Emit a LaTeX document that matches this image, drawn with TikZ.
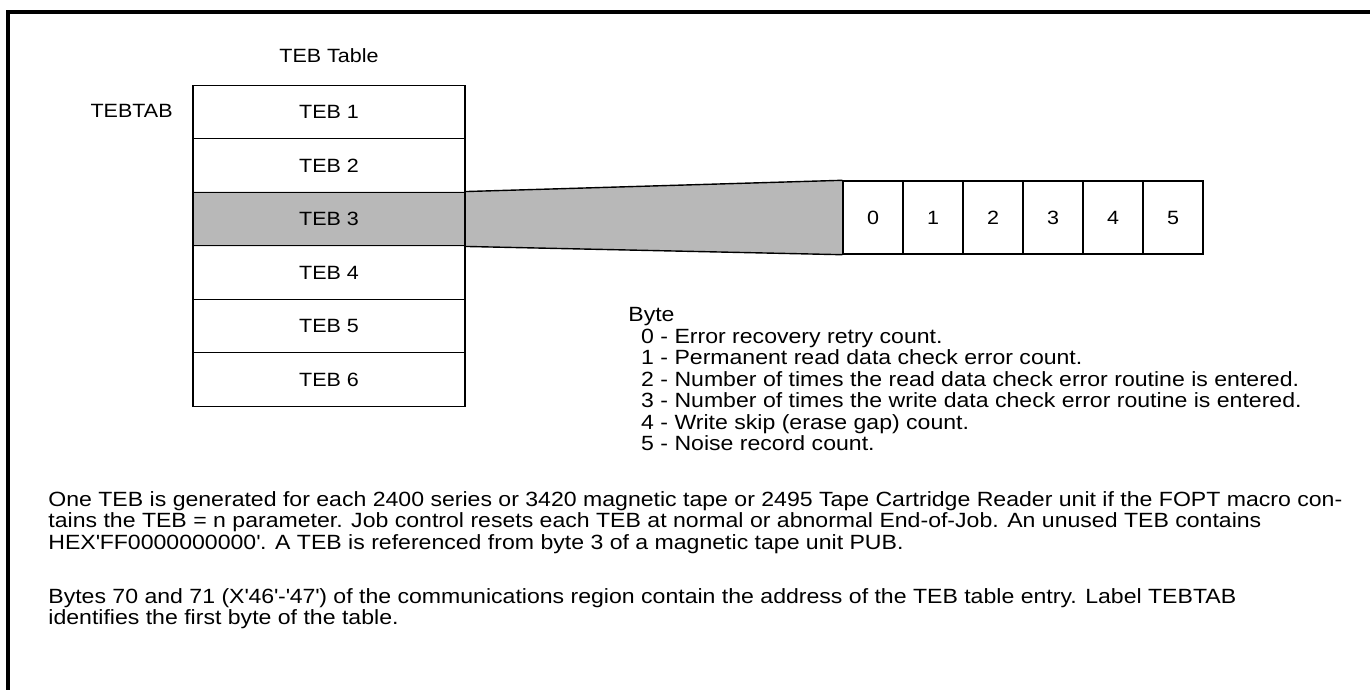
\documentclass[tikz,border=0pt]{standalone}
\usepackage{fontspec}
\setmainfont[FakeStretch=1.12]{Liberation Sans}
\usetikzlibrary{backgrounds}
\begin{document}
\begin{tikzpicture}[x=0.5pt, y=-0.5pt,
    every node/.append style={font=\fontsize{9.6}{10.75}\selectfont},
    tebrow/.style={draw, line width=0.7pt, rectangle, minimum width=136pt, minimum height=26.75pt, inner sep=0pt},
    bytebox/.style={draw, line width=0.7pt, rectangle, minimum width=30pt, minimum height=36.5pt, inner sep=0pt},
    tebshade/.style={fill=black!28},
    plain/.style={inner sep=0pt},
    note/.style={inner sep=0pt, anchor=north west, align=left, font=\fontsize{10.3}{10.75}\selectfont}]
    \useasboundingbox (0,0) rectangle (1370,690);
    \draw[line width=2pt] (8,690) -- (8,12) -- (1370,12);

    \node[plain] (title) at (329,56) {TEB Table};
    \node[plain, anchor=east] (tebtab) at (173,111) {TEBTAB};
    \foreach \i in {1,...,6}
        \node[tebrow] (teb\i) at (329, 58.5+53.5*\i) {TEB \i};

    \foreach \b in {0,...,5}
        \node[bytebox] (byte\b) at (873+60*\b, 217.5) {\b};

    \begin{scope}[on background layer]
        \fill[tebshade] (teb3.north west) -- (teb3.north east) -- (byte0.north west)
            -- (byte0.south west) -- (teb3.south east) -- (teb3.south west) -- cycle;
    \end{scope}
    \draw[line width=0.7pt] (teb3.north east) -- (byte0.north west);
    \draw[line width=0.7pt] (teb3.south east) -- (byte0.south west);

    \node[note] (bytes) at (628,307) {
        Byte\\
        \ \ 0 - Error recovery retry count.\\
        \ \ 1 - Permanent read data check error count.\\
        \ \ 2 - Number of times the read data check error routine is entered.\\
        \ \ 3 - Number of times the write data check error routine is entered.\\
        \ \ 4 - Write skip (erase gap) count.\\
        \ \ 5 - Noise record count.
    };

    \node[note] (note1) at (48,491) {
        One TEB is generated for each 2400 series or 3420 magnetic tape or 2495 Tape Cartridge Reader unit if the FOPT macro con-\\
        tains the TEB = n parameter. Job control resets each TEB at normal or abnormal End-of-Job. An unused TEB contains\\
        HEX\textquotesingle FF0000000000\textquotesingle. A TEB is referenced from byte 3 of a magnetic tape unit PUB.
    };
    \node[note] (note2) at (48,588) {
        Bytes 70 and 71 (X\textquotesingle 46\textquotesingle-\textquotesingle 47\textquotesingle) of the communications region contain the address of the TEB table entry. Label TEBTAB\\
        identifies the first byte of the table.
    };
\end{tikzpicture}
\end{document}
